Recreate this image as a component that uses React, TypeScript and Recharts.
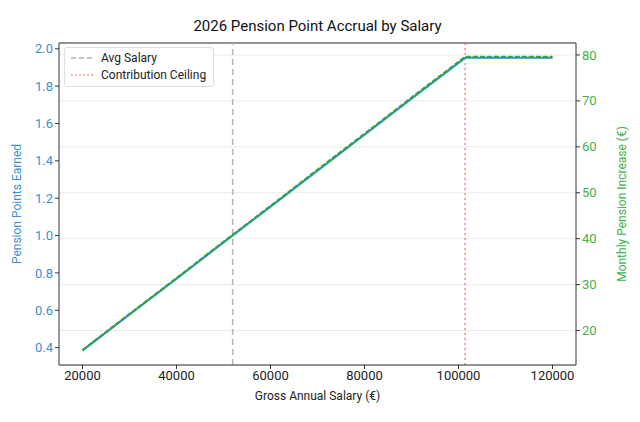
import {
  ComposedChart,
  Line,
  XAxis,
  YAxis,
  CartesianGrid,
  ReferenceLine,
} from "recharts";

// salary samples and values
const salaries = [20000, 30000, 40000, 50000, 60000, 70000, 80000, 90000, 100000, 101400, 110000, 120000];
const pensionPoints = [0.385, 0.578, 0.77, 0.963, 1.155, 1.348, 1.54, 1.733, 1.925, 1.952, 1.952, 1.952];
const monthlyIncrease = [15.7, 23.6, 31.4, 39.3, 47.1, 55.0, 62.8, 70.7, 78.5, 79.6, 79.6, 79.6];

const xTicks = [20000, 40000, 60000, 80000, 100000, 120000];
const leftTicks = [0.4, 0.6, 0.8, 1.0, 1.2, 1.4, 1.6, 1.8, 2.0];
const rightTicks = [20, 30, 40, 50, 60, 70, 80];

const avgSalary = 51944;
const ceiling = 101400;

const data = salaries.map((s, i) => ({
  salary: s,
  points: pensionPoints[i],
  monthly: monthlyIncrease[i],
}));

const FONT = "Roboto, 'Open Sans', sans-serif";
const BLUE = "#3a8ccf";
const GREEN = "#2fa83a";
const TICK_BLUE = "#3d8fd1";
const TICK_GREEN = "#3cb44a";

export default function App() {
  return (
    <div
      style={{
        position: "absolute",
        left: 0,
        top: 0,
        width: 640,
        height: 422,
        background: "#fff",
        fontFamily: FONT,
      }}
    >
      <div
        style={{
          position: "absolute",
          top: 17,
          left: 59,
          width: 517,
          textAlign: "center",
          fontSize: 15,
          color: "#111",
        }}
      >
        2026 Pension Point Accrual by Salary
      </div>

      <ComposedChart
        width={640}
        height={422}
        data={data}
        margin={{ top: 43, right: 0, left: 0, bottom: 0 }}
        style={{ fontFamily: FONT }}
      >
        <CartesianGrid yAxisId="right" vertical={false} stroke="#ebebeb" />
        <XAxis
          dataKey="salary"
          type="number"
          domain={[15000, 125000]}
          ticks={xTicks}
          height={57}
          stroke="#333"
          tick={{ fill: "#222", fontSize: 13 }}
          tickSize={4}
          label={{ value: "Gross Annual Salary (€)", position: "insideBottom", offset: 22, fill: "#222", fontSize: 12 }}
        />
        <YAxis
          yAxisId="left"
          domain={[0.307, 2.031]}
          ticks={leftTicks}
          allowDataOverflow
          width={59}
          stroke="#333"
          tickFormatter={(v: number) => v.toFixed(1)}
          tick={{ fill: TICK_BLUE, fontSize: 13 }}
          tickSize={4}
          label={{ value: "Pension Points Earned", angle: -90, position: "insideLeft", offset: 17, fill: TICK_BLUE, fontSize: 12, style: { textAnchor: "middle" } }}
        />
        <YAxis
          yAxisId="right"
          orientation="right"
          domain={[12.5, 82.6]}
          ticks={rightTicks}
          allowDataOverflow
          width={64}
          stroke="#333"
          tick={{ fill: TICK_GREEN, fontSize: 13 }}
          tickSize={4}
          label={{ value: "Monthly Pension Increase (€)", angle: -90, position: "insideRight", offset: 18, fill: TICK_GREEN, fontSize: 12, style: { textAnchor: "middle" } }}
        />
        <ReferenceLine yAxisId="left" y={2.031} stroke="#333" />
        <ReferenceLine yAxisId="left" x={avgSalary} stroke="#b5b5b5" strokeWidth={1.5} strokeDasharray="6 4" />
        <ReferenceLine yAxisId="left" x={ceiling} stroke="#ff6666" strokeWidth={1.2} strokeDasharray="2 3" />
        <Line
          yAxisId="left"
          dataKey="points"
          type="linear"
          stroke={BLUE}
          strokeWidth={2.2}
          dot={false}
          isAnimationActive={false}
        />
        <Line
          yAxisId="right"
          dataKey="monthly"
          type="linear"
          stroke={GREEN}
          strokeWidth={2.2}
          strokeDasharray="5 2"
          dot={false}
          isAnimationActive={false}
        />
      </ComposedChart>

      <div
        style={{
          position: "absolute",
          left: 64,
          top: 47,
          width: 148,
          height: 38,
          border: "1px solid #ddd",
          borderRadius: 3,
          background: "rgba(255,255,255,0.85)",
          fontSize: 12,
          color: "#222",
        }}
      >
        <svg width={148} height={38} style={{ position: "absolute", left: 0, top: 0 }}>
          <line x1={6} y1={10} x2={28} y2={10} stroke="#b5b5b5" strokeWidth={1.5} strokeDasharray="5 3" />
          <line x1={6} y1={27} x2={28} y2={27} stroke="#ff6666" strokeWidth={1.2} strokeDasharray="2 2" />
          <text x={36} y={14} fontSize={12} fill="#222" fontFamily={FONT}>Avg Salary</text>
          <text x={36} y={31} fontSize={12} fill="#222" fontFamily={FONT}>Contribution Ceiling</text>
        </svg>
      </div>
    </div>
  );
}
